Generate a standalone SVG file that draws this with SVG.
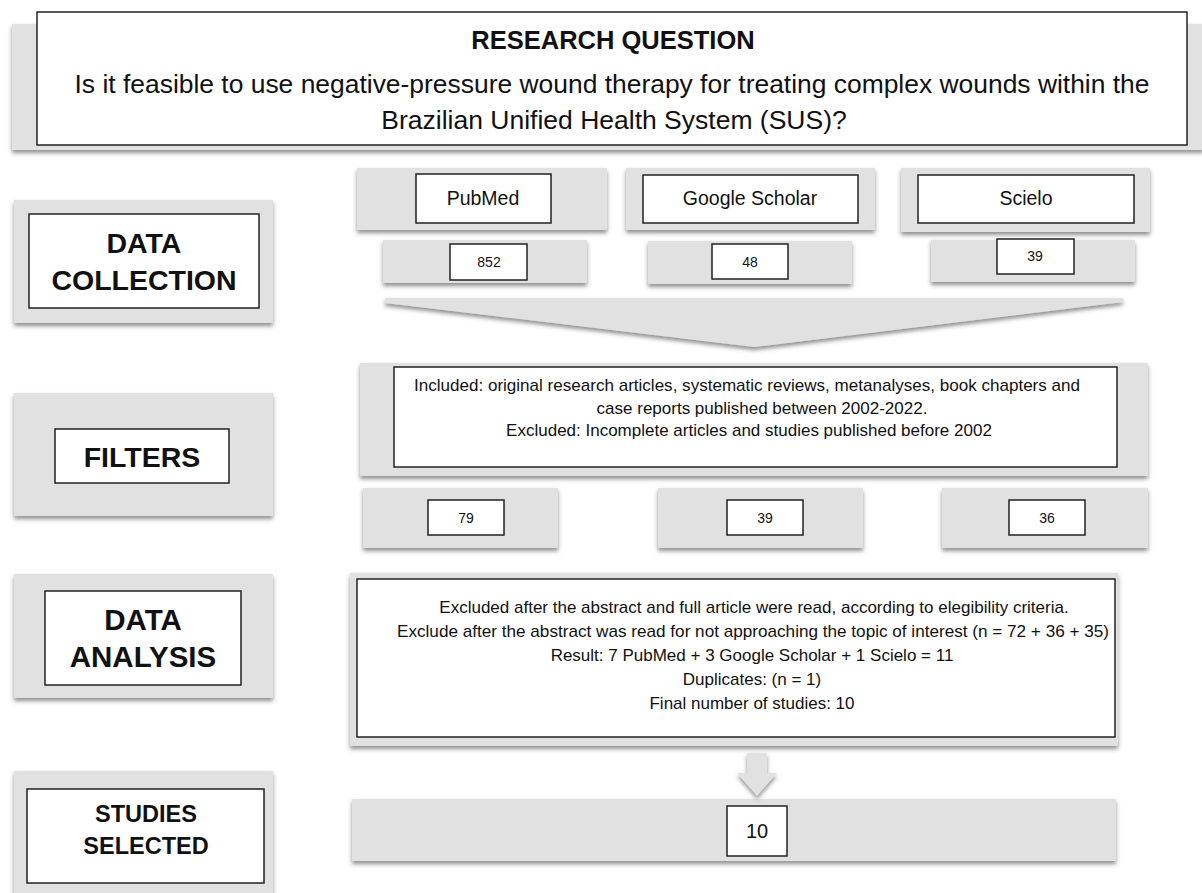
<svg xmlns="http://www.w3.org/2000/svg" width="1202" height="893" viewBox="0 0 1202 893">
<defs>
<filter id="sh" x="-5%" y="-10%" width="110%" height="130%">
<feDropShadow dx="0" dy="3" stdDeviation="2" flood-color="#444" flood-opacity="0.6"/>
</filter>
<style>
.panel{fill:#e1e1e1;filter:url(#sh)}
.box{fill:#fff;stroke:#222;stroke-width:1.5}
.t{font-family:"Liberation Sans",Arial,sans-serif;fill:#111;text-anchor:middle}
.b{font-weight:bold}
.rq{font-size:26.5px}
.d{font-size:17px}
.src{font-size:19.5px}
.n{font-size:14px}
.conn{fill:#e1e1e1;filter:url(#sh)}
</style>
</defs>
<rect width="1202" height="893" fill="#fff"/>

<g id="research-question">
<rect class="panel" x="12" y="24" width="1192" height="126"/>
<rect class="box" x="37" y="12" width="1150" height="133"/>
<text class="t b" x="613" y="49" font-size="25.5">RESEARCH QUESTION</text>
<text class="t rq" x="612" y="93" textLength="1075" lengthAdjust="spacingAndGlyphs">Is it feasible to use negative-pressure wound therapy for treating complex wounds within the</text>
<text class="t rq" x="614" y="129">Brazilian Unified Health System (SUS)?</text>
</g>

<g id="data-collection">
<rect class="panel" x="14" y="200" width="259" height="123"/>
<rect class="box" x="29" y="214" width="230" height="94"/>
<text class="t b" x="144" y="253" font-size="28.5">DATA</text>
<text class="t b" x="144" y="290" font-size="28.5">COLLECTION</text>
</g>

<g id="pubmed">
<rect class="panel" x="357" y="168" width="250" height="62"/>
<rect class="box" x="416" y="174" width="135" height="49"/>
<text class="t src" x="483" y="205">PubMed</text>
</g>
<g id="pubmed-count">
<rect class="panel" x="383" y="240" width="204" height="43"/>
<rect class="box" x="450" y="244" width="77" height="36"/>
<text class="t n" x="489" y="267">852</text>
</g>

<g id="google-scholar">
<rect class="panel" x="626" y="168" width="249" height="62"/>
<rect class="box" x="643" y="175" width="215" height="48"/>
<text class="t src" x="750" y="205">Google Scholar</text>
</g>
<g id="google-count">
<rect class="panel" x="648" y="241" width="204" height="43"/>
<rect class="box" x="712" y="244" width="76" height="35"/>
<text class="t n" x="750" y="267">48</text>
</g>

<g id="scielo">
<rect class="panel" x="901" y="168" width="249" height="64"/>
<rect class="box" x="918" y="175" width="216" height="48"/>
<text class="t src" x="1026" y="205">Scielo</text>
</g>
<g id="scielo-count">
<rect class="panel" x="931" y="240" width="204" height="42"/>
<rect class="box" x="997" y="239" width="77" height="35"/>
<text class="t n" x="1035" y="261">39</text>
</g>

<g id="filters">
<rect class="panel" x="14" y="393" width="259" height="123"/>
<rect class="box" x="55" y="429" width="174" height="54"/>
<text class="t b" x="142" y="467" font-size="28.5">FILTERS</text>
</g>

<g id="filter-criteria">
<rect class="panel" x="360" y="363" width="788" height="113"/>
<rect class="box" x="394" y="367" width="723" height="100"/>
<text class="t d" x="747" y="391" textLength="666" lengthAdjust="spacingAndGlyphs">Included: original research articles, systematic reviews, metanalyses, book chapters and</text>
<text class="t d" x="762" y="414">case reports published between 2002-2022.</text>
<text class="t d" x="749" y="436">Excluded: Incomplete articles and studies published before 2002</text>
</g>

<g id="pubmed-filtered">
<rect class="panel" x="363" y="488" width="195" height="60"/>
<rect class="box" x="428" y="500" width="76" height="35"/>
<text class="t n" x="466" y="523">79</text>
</g>
<g id="google-filtered">
<rect class="panel" x="658" y="488" width="205" height="60"/>
<rect class="box" x="727" y="500" width="76" height="35"/>
<text class="t n" x="765" y="523">39</text>
</g>
<g id="scielo-filtered">
<rect class="panel" x="942" y="488" width="206" height="60"/>
<rect class="box" x="1009" y="500" width="76" height="35"/>
<text class="t n" x="1047" y="523">36</text>
</g>

<g id="data-analysis">
<rect class="panel" x="14" y="574" width="259" height="124"/>
<rect class="box" x="45" y="591" width="196" height="94"/>
<text class="t b" x="143" y="630" font-size="29.5">DATA</text>
<text class="t b" x="143" y="667" font-size="29.5">ANALYSIS</text>
</g>

<g id="analysis-details">
<rect class="panel" x="350" y="573" width="768" height="173"/>
<rect class="box" x="357" y="579" width="758" height="158"/>
<text class="t d" x="754" y="613">Excluded after the abstract and full article were read, according to elegibility criteria.</text>
<text class="t d" x="753" y="637" textLength="712" lengthAdjust="spacingAndGlyphs">Exclude after the abstract was read for not approaching the topic of interest (n = 72 + 36 + 35)</text>
<text class="t d" x="752" y="661">Result: 7 PubMed + 3 Google Scholar + 1 Scielo = 11</text>
<text class="t d" x="752" y="685">Duplicates: (n = 1)</text>
<text class="t d" x="752" y="709">Final number of studies: 10</text>
</g>

<g id="studies-selected">
<rect class="panel" x="14" y="771" width="259" height="130"/>
<rect class="box" x="27" y="789" width="237" height="94"/>
<text class="t b" x="146" y="822" font-size="23.5">STUDIES</text>
<text class="t b" x="146" y="854" font-size="23.5">SELECTED</text>
</g>

<g id="final-count">
<rect class="panel" x="352" y="799" width="764" height="62"/>
<rect class="box" x="727" y="806" width="60" height="50"/>
<text class="t" x="757" y="838" font-size="20">10</text>
</g>

<g id="connectors">
<polygon class="conn" points="385,298 1123,298 1123,302 754,347 385,303"/>
<polygon class="conn" points="747,753 767,753 767,773 777,773 757,796 737,773 747,773"/>
</g>
</svg>
